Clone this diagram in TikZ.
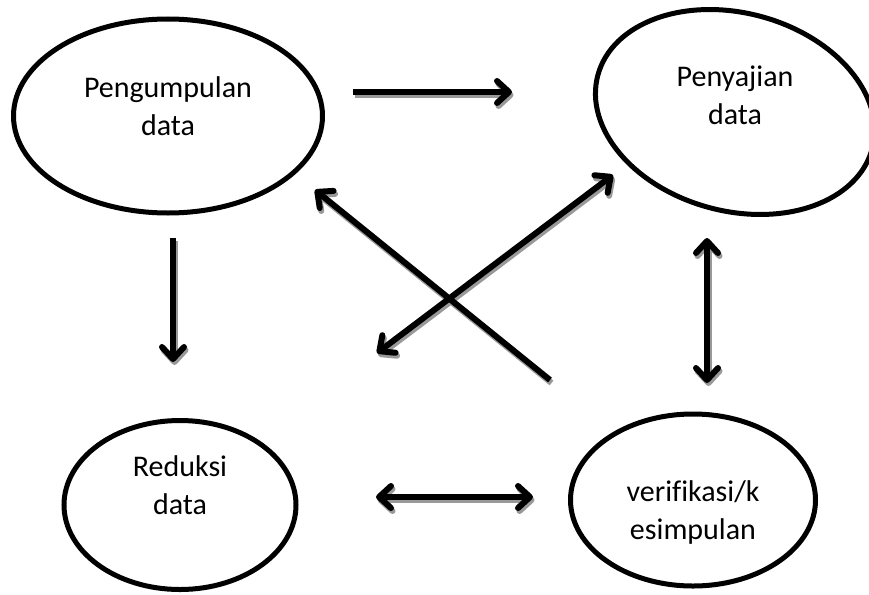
\documentclass[tikz,border=0pt]{standalone}
\usepackage{fontspec}
\setmainfont{Carlito}[Ligatures=CommonOff]
\usetikzlibrary{shapes.geometric,arrows.meta}
\tikzset{
  bubble/.style={shape=ellipse,draw=black,line width=5pt,inner sep=0pt},
  caption/.style={align=center,inner sep=0pt,font=\fontsize{30}{38}\selectfont},
  flow/.style={line width=6pt,-{Straight Barb[round,length=12pt,width=22pt]}},
  twoway/.style={line width=6pt,{Straight Barb[round,length=12pt,width=22pt]}-{Straight Barb[round,length=12pt,width=22pt]}},
  shade/.style={draw=black!40,transform canvas={shift={(1.5pt,-3pt)}}}
}
\begin{document}
\begin{tikzpicture}[x=1pt,y=-1pt]
        \useasboundingbox (0,0) rectangle (869,594);
        \node[bubble,minimum width=309pt,minimum height=194pt] (pengumpulan) at (168,116){};
        \node[bubble,minimum width=284pt,minimum height=198pt,rotate=-15] (penyajian) at (735,112){};
        \node[bubble,minimum width=232pt,minimum height=169pt] (reduksi) at (180,505){};
        \node[bubble,minimum width=245pt,minimum height=172pt] (verifikasi) at (693,500){};
        \node[caption] (pengumpulan text) at (168,106){Pengumpulan\\data};
        \node[caption] (penyajian text) at (735,95){Penyajian\\data};
        \node[caption] (reduksi text) at (180,485){Reduksi\\data};
        \node[caption] (verifikasi text) at (693,512){verifikasi/k\\esimpulan};
        \coordinate (a1) at (353,92);
        \coordinate (a2) at (512,92);
        \coordinate (b1) at (173,238);
        \coordinate (b2) at (173,362);
        \coordinate (c1) at (550,380);
        \coordinate (c2) at (315,190);
        \coordinate (d1) at (377,353);
        \coordinate (d2) at (613,175);
        \coordinate (e1) at (707,238);
        \coordinate (e2) at (707,383);
        \coordinate (f1) at (376,497);
        \coordinate (f2) at (533,497);
        % shadows first
        \draw[flow,shade] (a1) -- (a2);
        \draw[flow,shade] (b1) -- (b2);
        \draw[flow,shade] (c1) -- (c2);
        \draw[twoway,shade] (d1) -- (d2);
        \draw[twoway,shade] (e1) -- (e2);
        \draw[twoway,shade] (f1) -- (f2);
        \draw[flow] (a1) -- (a2);
        \draw[flow] (b1) -- (b2);
        \draw[flow] (c1) -- (c2);
        \draw[twoway] (d1) -- (d2);
        \draw[twoway] (e1) -- (e2);
        \draw[twoway] (f1) -- (f2);
    \end{tikzpicture}
\end{document}
